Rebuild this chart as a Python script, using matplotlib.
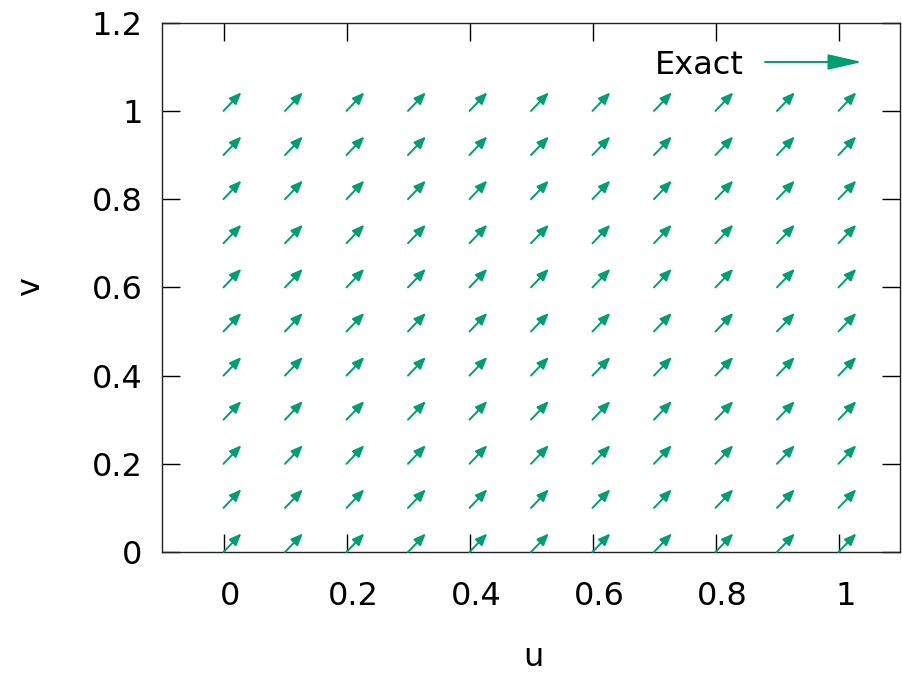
import numpy as np
import matplotlib
matplotlib.use("Agg")
import matplotlib.pyplot as plt
from matplotlib.transforms import ScaledTranslation

# grid of arrow tails and the (constant) exact vector at each point
u_pts = [0.0, 0.1, 0.2, 0.3, 0.4, 0.5, 0.6, 0.7, 0.8, 0.9, 1.0]
v_pts = [0.0, 0.1, 0.2, 0.3, 0.4, 0.5, 0.6, 0.7, 0.8, 0.9, 1.0]
du = 0.029
dv = 0.042

xticks = [0, 0.2, 0.4, 0.6, 0.8, 1]
xticklabels = ["0", "0.2", "0.4", "0.6", "0.8", "1"]
yticks = [0, 0.2, 0.4, 0.6, 0.8, 1, 1.2]
yticklabels = ["0", "0.2", "0.4", "0.6", "0.8", "1", "1.2"]

GREEN = "#009e73"
FS = 23

plt.rcParams.update({"font.family": "DejaVu Sans", "font.size": FS})

fig = plt.figure(figsize=(9.02, 6.77), dpi=100)
ax = fig.add_axes([162 / 902, 125 / 677, 738 / 902, 529.3 / 677])
ax.set_xlim(-0.1, 1.1)
ax.set_ylim(0, 1.2)

for u in u_pts:
    for v in v_pts:
        ax.annotate("", xy=(u + du, v + dv), xytext=(u, v),
                    arrowprops=dict(arrowstyle="-|>,head_length=7,head_width=2.9",
                                    mutation_scale=1, shrinkA=0, shrinkB=0,
                                    color=GREEN, lw=1.4), annotation_clip=False)

# key
fig.text(744 / 902, 1 - 65 / 677, "Exact", ha="right", va="center", fontsize=FS)
ax.annotate("", xy=(862 / 902, 1 - 62 / 677), xytext=(765 / 902, 1 - 62 / 677),
            xycoords="figure fraction", textcoords="figure fraction",
            arrowprops=dict(arrowstyle="-|>,head_length=21,head_width=4.8",
                            mutation_scale=1, shrinkA=0, shrinkB=0,
                            color=GREEN, lw=1.4))

ax.set_xticks(xticks, xticklabels)
ax.set_yticks(yticks, yticklabels)
ax.tick_params(direction="in", length=13, width=1, top=True, right=True,
               labelsize=FS, colors="black")
ax.tick_params(axis="x", pad=21)
ax.tick_params(axis="y", pad=14)
for lab in ax.get_xticklabels():
    lab.set_transform(lab.get_transform() + ScaledTranslation(0.07, 0, fig.dpi_scale_trans))
for s in ax.spines.values():
    s.set_linewidth(1)
    s.set_color("#222222")

fig.text(533 / 902, 1 - 658 / 677, "u", ha="center", va="center", fontsize=FS)
fig.text(31 / 902, 1 - 287 / 677, "v", ha="center", va="center", rotation=90, fontsize=FS)

fig.savefig("out.png", dpi=100, facecolor="white")
